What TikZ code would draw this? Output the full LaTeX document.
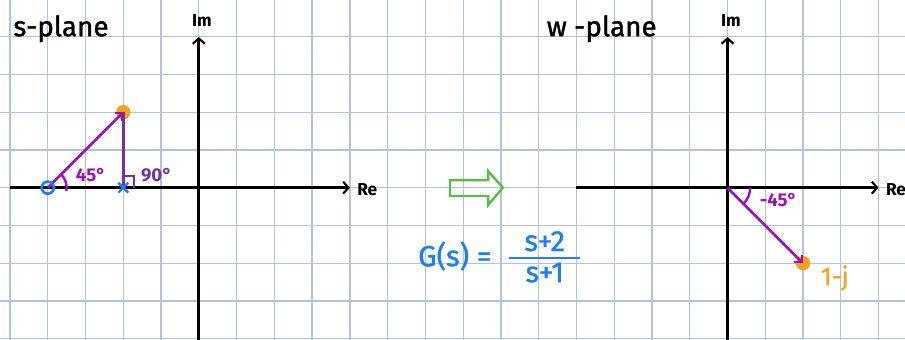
\documentclass[tikz,border=0pt]{standalone}
\usepackage{fontspec}
\setmainfont{Fira Sans}
\newfontfamily\handfont[FakeBold=1.2]{Fira Sans}
\usetikzlibrary{arrows.meta,calc}
\definecolor{gridc}{HTML}{B3C3DC}
\definecolor{pblue}{HTML}{1E7FF0}
\definecolor{porange}{HTML}{F7A21B}
\definecolor{ppurple}{HTML}{9B12B8}
\definecolor{pdpurple}{HTML}{7234A0}
\definecolor{pgreen}{HTML}{5DB84E}
\begin{document}
\begin{tikzpicture}[
  gridline/.style={gridc, line width=0.95pt},
  axisline/.style={black, line width=2.2pt, -{Straight Barb[length=4pt,width=9pt,line width=1.6pt]}},
  vecline/.style={ppurple, line width=2pt, -{Straight Barb[length=4pt,width=8pt,line width=1.6pt]}},
  lbl/.style={inner sep=0pt, font=\fontsize{13}{13}\selectfont\bfseries},
  title/.style={inner sep=0pt, font=\fontsize{21}{21}\handfont},
  anglbl/.style={inner sep=0pt, font=\fontsize{14}{14}\selectfont\bfseries},
  formula/.style={inner sep=0pt, pblue, font=\fontsize{22}{22}\handfont},
  dot/.style={circle, fill=porange, inner sep=0pt, minimum size=0.38cm},
]
\useasboundingbox (-0.265,-4.03) rectangle (23.70,4.97);
\fill[white] (-0.265,-4.03) rectangle (23.70,4.97);
\foreach \x in {0,...,23} \draw[gridline] (\x,-4.03) -- (\x,4.97);
\foreach \y in {-4,...,4} \draw[gridline] (-0.265,\y) -- (23.70,\y);

% ---- s-plane ----
\node[title] (stitle) at (1.35,4.21) {s-plane};
\coordinate (sReL) at (0,0);
\coordinate (sReR) at (9.0,0);
\coordinate (sImB) at (5,-4.1);
\coordinate (sImT) at (5,3.99);
\draw[axisline] (sReL) -- (sReR);
\draw[axisline] (sImB) -- (sImT);
\node[lbl, anchor=west] (sRe) at (9.19,-0.06) {Re};
\node[lbl] (sIm) at (5.08,4.43) {Im};

\coordinate (zero) at (1,0);
\coordinate (pole) at (3,0);
\node[dot] (sdot) at (3,2) {};
\draw[pdpurple, line width=2pt] (pole) -- (sdot.center);
\draw[vecline] (zero) -- (sdot.center);
\draw[pdpurple, line width=1.6pt] ($(pole)+(0,0.3)$) -- ++(0.28,0) -- ++(0,-0.3);
\draw[ppurple, line width=1.8pt] ($(zero)+(-10:0.5)$) arc[start angle=-10, end angle=45, radius=0.5];
\draw[pblue, line width=2pt] (zero) circle[radius=0.16];
\draw[pblue, line width=1.8pt] ($(pole)+(-0.13,-0.13)$) -- ($(pole)+(0.13,0.13)$)
  ($(pole)+(-0.13,0.13)$) -- ($(pole)+(0.13,-0.13)$);
\node[anglbl, ppurple] (a45) at (2.14,0.34) {45°};
\node[anglbl, pdpurple] (a90) at (3.88,0.34) {90°};

% ---- transform arrow and G(s) ----
\draw[pgreen, line width=1.8pt] (11.65,0.2) -- (12.66,0.2) -- (12.66,0.44) -- (13.05,0)
  -- (12.66,-0.46) -- (12.66,-0.22) -- (11.65,-0.22) -- cycle;
\node[formula] (Gs) at (11.78,-1.81) {G(s) =};
\node[formula] (num) at (14.16,-1.42) {s+2};
\node[formula] (den) at (14.16,-2.25) {s+1};
\draw[pblue, line width=1.9pt] (13.21,-1.86) -- (15.09,-1.86);

% ---- w-plane ----
\node[title] (wtitle) at (15.67,4.21) {w -plane};
\coordinate (wReL) at (15,0);
\coordinate (wReR) at (23.0,0);
\coordinate (wImB) at (19,-4.1);
\coordinate (wImT) at (19,3.99);
\draw[axisline] (wReL) -- (wReR);
\draw[axisline] (wImB) -- (wImT);
\node[lbl, anchor=west] (wRe) at (23.19,-0.06) {Re};
\node[lbl] (wIm) at (19.09,4.43) {Im};
\coordinate (worig) at (19,0);
\node[dot] (wdot) at (21,-2) {};
\draw[vecline] (worig) -- (wdot.center);
\draw[ppurple, line width=1.8pt] ($(worig)+(0:0.6)$) arc[start angle=0, end angle=-45, radius=0.6];
\node[anglbl, ppurple] (am45) at (20.35,-0.33) {-45°};
\node[inner sep=0pt, porange, font=\fontsize{19}{19}\handfont] (wlab) at (21.84,-2.39) {1-j};
\end{tikzpicture}
\end{document}
